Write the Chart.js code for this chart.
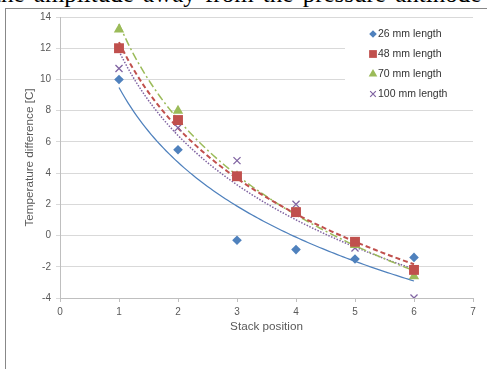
<!DOCTYPE html>
<html>
<head>
<meta charset="utf-8">
<script src="https://cdn.jsdelivr.net/npm/chart.js@4/dist/chart.umd.min.js"></script>
<style>
  html, body { margin: 0; padding: 0; background: #fff; }
  body { width: 487px; height: 369px; overflow: hidden; position: relative; }
  .doc-line {
    position: absolute; left: -6px; top: -19px; white-space: nowrap; word-spacing: 3px;
    font: 25px/25px "Liberation Serif", "Times New Roman", serif; color: #000;
  }
  .frame {
    position: absolute; left: 5px; top: 8px; width: 600px; height: 400px;
    border: 1px solid #888; box-sizing: border-box;
  }
  #chart { position: absolute; left: 0; top: 0; }
</style>
</head>
<body>
<div class="doc-line">the amplitude away from the pressure antinode</div>
<div class="frame"></div>
<canvas id="chart" width="487" height="369"></canvas>
<script>
// Stack positions and measured temperature differences per stack length
const positions = [1, 2, 3, 4, 5, 6];
const labels = ['26 mm length', '48 mm length', '70 mm length', '100 mm length'];
const temp26 = [10.0, 5.5, -0.3, -0.9, -1.5, -1.4];
const temp48 = [12.0, 7.4, 3.8, 1.5, -0.4, -2.2];
const temp70 = [13.2, 8.0, 3.8, 1.5, -0.6, -2.6];
const temp100 = [10.7, 6.9, 4.8, 2.0, -0.8, -4.0];

const colors = ['#4F81BD', '#C0504D', '#9BBB59', '#8064A2'];
const markers = ['rectRot', 'rect', 'triangle', 'crossRot'];
const markerSize = [4.8, 7, 6, 5];
const trendDash = [[], [5, 3], [8, 3, 2, 3], [1.5, 1.5]];
const trendWidth = [1.25, 2, 1.5, 1.5];

const series = [temp26, temp48, temp70, temp100];

// Logarithmic least squares trend: y = a*ln(x) + b
function logTrend(xs, ys) {
    const lx = xs.map(Math.log);
    const n = xs.length;
    const mx = lx.reduce((s, v) => s + v, 0) / n;
    const my = ys.reduce((s, v) => s + v, 0) / n;
    let sxy = 0, sxx = 0;
    lx.forEach((v, i) => {
        sxy += (v - mx) * (ys[i] - my);
        sxx += (v - mx) * (v - mx);
    });
    const a = sxy / sxx;
    const b = my - a * mx;
    const pts = [];
    for (let x = xs[0]; x <= xs[n - 1] + 1e-9; x += 0.05) {
        pts.push({ x: x, y: a * Math.log(x) + b });
    }
    return pts;
}

const pointSets = series.map((ys, i) => ({
    label: labels[i],
    data: positions.map((x, k) => ({ x: x, y: ys[k] })),
    pointStyle: markers[i],
    pointRadius: markerSize[i],
    pointBackgroundColor: colors[i],
    pointBorderColor: colors[i],
    pointBorderWidth: i === 3 ? 1.3 : 0,
    showLine: false
}));

const trendSets = series.map((ys, i) => ({
    label: labels[i] + ' trend',
    data: logTrend(positions, ys),
    showLine: true,
    pointRadius: 0,
    borderColor: colors[i],
    borderWidth: trendWidth[i],
    borderDash: trendDash[i],
    tension: 0
}));

// Legend box drawn inside the plot, over the gridlines
const insideLegend = {
    id: 'insideLegend',
    afterDraw(chart) {
        const ctx = chart.ctx;
        const sizes = [3.8, 5.5, 5, 4];
        ctx.save();
        ctx.fillStyle = '#fff';
        ctx.fillRect(345, 22, 135, 82);
        ctx.font = '10.5px "Liberation Sans", Arial, sans-serif';
        ctx.textBaseline = 'middle';
        labels.forEach((text, i) => {
            const y = 34 + i * 20;
            ctx.fillStyle = colors[i];
            ctx.strokeStyle = colors[i];
            ctx.lineWidth = 1.2;
            Chart.helpers.drawPoint(ctx, {
                pointStyle: markers[i], radius: sizes[i], rotation: 0,
                borderWidth: i === 3 ? 1.2 : 0
            }, 373, y);
            ctx.fillStyle = '#333';
            ctx.fillText(text, 378, y + 0.5);
        });
        ctx.restore();
    }
};

const tickFont = { family: '"Liberation Sans", Arial, sans-serif', size: 10 };
const titleFont = { family: '"Liberation Sans", Arial, sans-serif', size: 11.7 };

new Chart(document.getElementById('chart'), {
    type: 'scatter',
    data: { datasets: pointSets.concat(trendSets) },
    options: {
        responsive: false,
        animation: false,
        events: [],
        layout: { autoPadding: false, padding: { top: 17, right: 14, bottom: 33, left: 0 } },
        plugins: {
            legend: { display: false },
            tooltip: { enabled: false }
        },
        scales: {
            x: {
                type: 'linear', min: 0, max: 7,
                afterFit: (scale) => { scale.height = 38; },
                ticks: { stepSize: 1, color: '#595959', font: tickFont, padding: 4 },
                grid: { drawOnChartArea: false, drawTicks: true, tickLength: 4, color: '#bfbfbf' },
                border: { color: '#bfbfbf' },
                title: {
                    display: true, text: 'Stack position', color: '#595959',
                    font: titleFont, padding: { top: 0, bottom: 2 }
                }
            },
            y: {
                min: -4, max: 14,
                afterFit: (scale) => { scale.width = 60; },
                ticks: { stepSize: 2, color: '#595959', font: tickFont, padding: 5 },
                grid: { color: '#d9d9d9', tickLength: 4 },
                border: { color: '#bfbfbf' },
                title: {
                    display: true, text: 'Temperature difference [C]', color: '#595959',
                    font: titleFont, padding: { top: 23, bottom: 0 }
                }
            }
        }
    },
    plugins: [insideLegend]
});
</script>
</body>
</html>
